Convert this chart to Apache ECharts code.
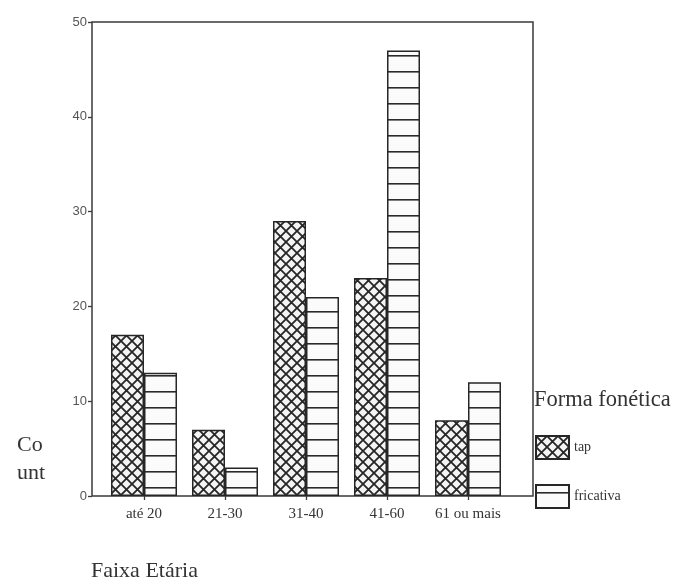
<!DOCTYPE html>
<html>
<head>
<meta charset="utf-8">
<script src="https://cdn.jsdelivr.net/npm/echarts@6/dist/echarts.min.js"></script>
<style>
  html, body { margin: 0; padding: 0; background: #fff; }
  #chart { width: 676px; height: 580px; }
</style>
</head>
<body>
<div id="chart"></div>
<script>
// Age groups and counts per phonetic form
const categories = ['até 20', '21-30', '31-40', '41-60', '61 ou mais'];
const tapCounts = [17, 7, 29, 23, 8];
const fricativaCounts = [13, 3, 21, 47, 12];
const yTicks = [0, 10, 20, 30, 40, 50];
const seriesNames = ['tap', 'fricativa'];

const serif = '"Liberation Serif", "DejaVu Serif", serif';
const sans = '"Liberation Sans", Arial, sans-serif';

// Cross-hatch (diamond) fill
function crossHatch() {
  const s = 11;
  const c = document.createElement('canvas');
  c.width = s; c.height = s;
  const g = c.getContext('2d');
  g.fillStyle = '#f4f4f4';
  g.fillRect(0, 0, s, s);
  g.strokeStyle = '#262626';
  g.lineWidth = 1.8;
  g.beginPath();
  g.moveTo(-1, -1); g.lineTo(s + 1, s + 1);
  g.moveTo(s + 1, -1); g.lineTo(-1, s + 1);
  g.stroke();
  return c;
}

// Horizontal line fill
function horizontalHatch() {
  const c = document.createElement('canvas');
  c.width = 4; c.height = 16;
  const g = c.getContext('2d');
  g.fillStyle = '#fbfbfb';
  g.fillRect(0, 0, 4, 16);
  g.fillStyle = '#2a2a2a';
  g.fillRect(0, 7, 4, 1.6);
  return c;
}

const chart = echarts.init(document.getElementById('chart'), null, { renderer: 'canvas' });

const yMin = yTicks[0], yMax = yTicks[yTicks.length - 1];
const textColor = '#333';

chart.setOption({
  animation: false,
  backgroundColor: '#ffffff',
  title: [
    { text: 'Forma fonética', left: 529, top: 384,
      textStyle: { fontFamily: serif, fontSize: 22.5, fontWeight: 'normal', color: textColor } },
    { text: 'Co\nunt', left: 12, top: 426,
      textStyle: { fontFamily: serif, fontSize: 22, fontWeight: 'normal', color: textColor, lineHeight: 28 } },
    { text: 'Faixa Etária', left: 86, top: 555,
      textStyle: { fontFamily: serif, fontSize: 22, fontWeight: 'normal', color: textColor } }
  ],
  legend: {
    data: seriesNames,
    orient: 'vertical',
    left: 535, top: 435,
    itemWidth: 33, itemHeight: 23, itemGap: 24,
    icon: 'rect',
    padding: 0,
    textStyle: { fontFamily: serif, fontSize: 14, color: textColor }
  },
  grid: [
    // frame around the plot
    { left: 92, top: 22, width: 441, height: 474, show: true,
      borderColor: '#3a3a3a', borderWidth: 1.5, backgroundColor: 'transparent' },
    // bars
    { left: 103.5, top: 22, width: 405, height: 474 }
  ],
  xAxis: [
    { type: 'value', gridIndex: 0, show: false, min: 0, max: 1 },
    { type: 'category', gridIndex: 1, data: categories,
      axisLine: { show: false },
      axisTick: { show: true, alignWithLabel: true, length: 4, lineStyle: { color: '#3a3a3a', width: 1.3 } },
      axisLabel: { interval: 0, hideOverlap: false, margin: 11, fontFamily: serif, fontSize: 15, color: textColor } }
  ],
  yAxis: [
    { type: 'value', gridIndex: 0, min: yMin, max: yMax, interval: 10,
      axisLine: { show: false },
      axisTick: { show: true, length: 4, lineStyle: { color: '#3a3a3a', width: 1.3 } },
      axisLabel: { margin: 5, fontFamily: sans, fontSize: 13, color: '#555' },
      splitLine: { show: false } },
    { type: 'value', gridIndex: 1, min: yMin, max: yMax, show: false, splitLine: { show: false } }
  ],
  series: [
    { name: seriesNames[0], type: 'bar', xAxisIndex: 1, yAxisIndex: 1,
      data: tapCounts, barWidth: 33, barGap: '0%',
      itemStyle: { color: { image: crossHatch(), repeat: 'repeat' }, borderColor: '#262626', borderWidth: 1.5 } },
    { name: seriesNames[1], type: 'bar', xAxisIndex: 1, yAxisIndex: 1,
      data: fricativaCounts, barWidth: 33, barGap: '0%',
      itemStyle: { color: { image: horizontalHatch(), repeat: 'repeat' }, borderColor: '#262626', borderWidth: 1.5 } }
  ]
});
</script>
</body>
</html>
